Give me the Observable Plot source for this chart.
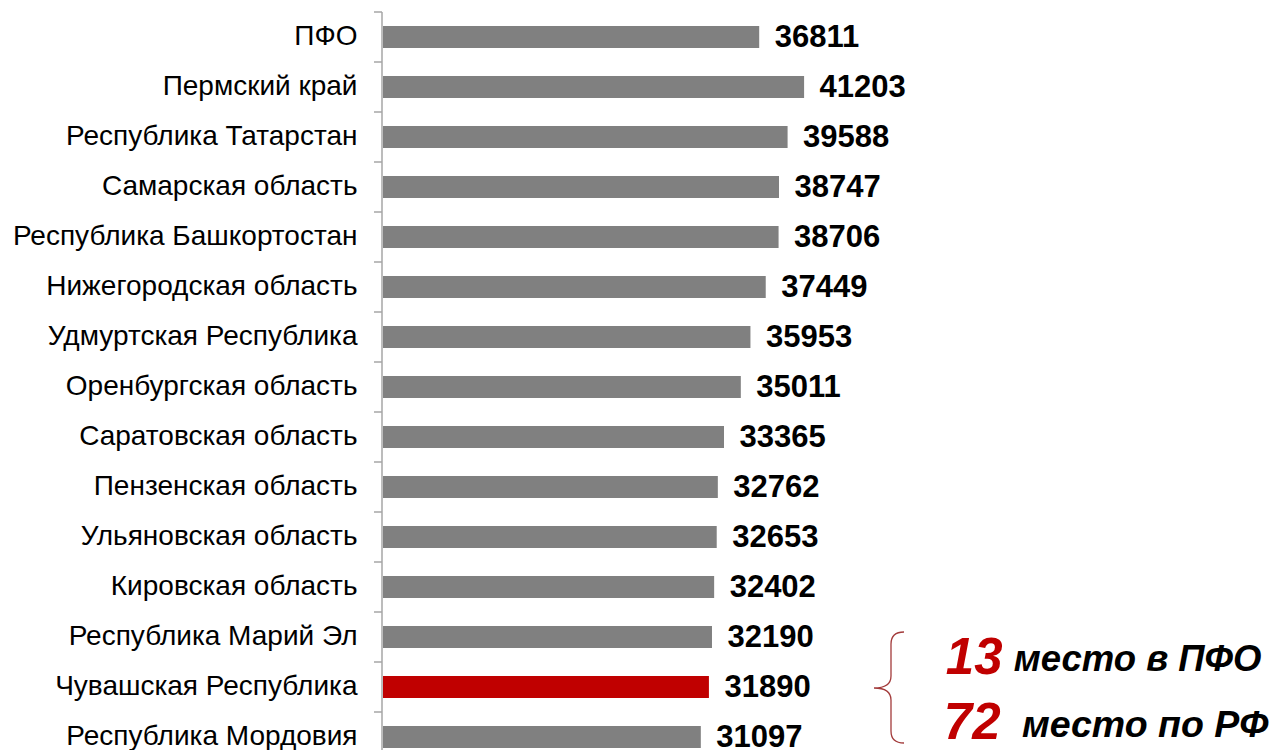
<!DOCTYPE html>
<html>
<head>
<meta charset="utf-8">
<script src="https://cdn.jsdelivr.net/npm/d3@7"></script>
<script src="https://cdn.jsdelivr.net/npm/@observablehq/plot@0.6"></script>
<style>
  html, body { margin: 0; padding: 0; background: #fff; }
  #chart svg { font-family: "Liberation Sans", Arial, sans-serif; display: block; }
</style>
</head>
<body>
<div id="chart"></div>
<script>
const regions = [
  "ПФО",
  "Пермский край",
  "Республика Татарстан",
  "Самарская область",
  "Республика Башкортостан",
  "Нижегородская область",
  "Удмуртская Республика",
  "Оренбургская область",
  "Саратовская область",
  "Пензенская область",
  "Ульяновская область",
  "Кировская область",
  "Республика Марий Эл",
  "Чувашская Республика",
  "Республика Мордовия"
];
const values = [36811, 41203, 39588, 38747, 38706, 37449, 35953, 35011, 33365, 32762, 32653, 32402, 32190, 31890, 31097];
const highlight = "Чувашская Республика";
const rankPFO = "13";
const rankPFOText = "место в ПФО";
const rankRF = "72";
const rankRFText = "место по РФ";

const data = regions.map((r, i) => ({region: r, value: values[i]}));

const W = 1274, H = 750;
const pxPerUnit = 0.01022;

// y-axis line with ticks at category boundaries
function axisFrame(index, scales, vals, dims) {
  const g = d3.create("svg:g");
  const y = scales.y, x = scales.x;
  const step = y(regions[1]) - y(regions[0]);
  const x0 = x(0) - 1;
  const top = y(regions[0]);
  const bottom = y(regions[regions.length - 1]) + step;
  g.append("line").attr("x1", x0).attr("x2", x0).attr("y1", top).attr("y2", bottom)
    .attr("stroke", "#a6a6a6").attr("stroke-width", 1.5);
  for (let i = 0; i <= regions.length; i++) {
    const yy = top + i * step;
    g.append("line").attr("x1", x0 - 8).attr("x2", x0).attr("y1", yy).attr("y2", yy)
      .attr("stroke", "#a6a6a6").attr("stroke-width", 1.5);
  }
  return g.node();
}

// curly bracket next to the bottom rows
function bracket(index, scales, vals, dims) {
  const y = scales.y;
  const step = y(regions[1]) - y(regions[0]);
  const yTop = y(regions[regions.length - 3]) + step / 2 - 5;
  const yMid = y(highlight) + step / 2 + 1;
  const yBot = y(regions[regions.length - 1]) + step / 2 + 6;
  const xe = 904, xv = 891, xt = 874;
  const r = 12;
  const p = d3.path();
  p.moveTo(xe, yTop);
  p.quadraticCurveTo(xv, yTop, xv, yTop + r);
  p.lineTo(xv, yMid - r);
  p.quadraticCurveTo(xv, yMid, xt, yMid);
  p.quadraticCurveTo(xv, yMid, xv, yMid + r);
  p.lineTo(xv, yBot - r);
  p.quadraticCurveTo(xv, yBot, xe, yBot);
  const path = d3.create("svg:path")
    .attr("d", p.toString())
    .attr("fill", "none")
    .attr("stroke", "#a33b3b")
    .attr("stroke-width", 1.3);
  return path.node();
}

const chart = Plot.plot({
  width: W,
  height: H,
  marginLeft: 383,
  marginRight: 0,
  marginTop: 12,
  marginBottom: 0,
  style: {fontFamily: '"Liberation Sans", Arial, sans-serif', background: "#fff"},
  x: {domain: [0, 40000], range: [383, 383 + 40000 * pxPerUnit], axis: null},
  y: {type: "band", domain: regions, range: [12, 762], padding: 0, axis: null},
  color: {type: "identity"},
  marks: [
    Plot.barX(data, {
      x: "value", y: "region",
      fill: d => d.region === highlight ? "#c00000" : "#808080",
      insetTop: 14, insetBottom: 14
    }),
    axisFrame,
    Plot.text(data, {
      x: 0, y: "region", text: "region",
      textAnchor: "end", dx: -26, dy: -1, fontSize: 28, fill: "#000"
    }),
    Plot.text(data, {
      x: "value", y: "region", text: d => String(d.value),
      textAnchor: "start", dx: 15, dy: 0, fontSize: 31, fontWeight: "bold", fill: "#000"
    }),
    bracket,
    Plot.text([rankPFO], {
      y: () => highlight, text: d => d, frameAnchor: "right",
      textAnchor: "end", dx: -272, dy: -30, fontSize: 51, fontWeight: "bold", fontStyle: "italic", fill: "#c00000"
    }),
    Plot.text([rankPFOText], {
      y: () => highlight, text: d => d, frameAnchor: "right",
      textAnchor: "end", dx: -13, dy: -28, fontSize: 36.5, fontWeight: "bold", fontStyle: "italic", fill: "#000"
    }),
    Plot.text([rankRF], {
      y: () => highlight, text: d => d, frameAnchor: "right",
      textAnchor: "end", dx: -274, dy: 35, fontSize: 51, fontWeight: "bold", fontStyle: "italic", fill: "#c00000"
    }),
    Plot.text([rankRFText], {
      y: () => highlight, text: d => d, frameAnchor: "right",
      textAnchor: "end", dx: -6, dy: 37, fontSize: 37.5, fontWeight: "bold", fontStyle: "italic", fill: "#000"
    })
  ]
});
document.getElementById("chart").appendChild(chart);
</script>
</body>
</html>
